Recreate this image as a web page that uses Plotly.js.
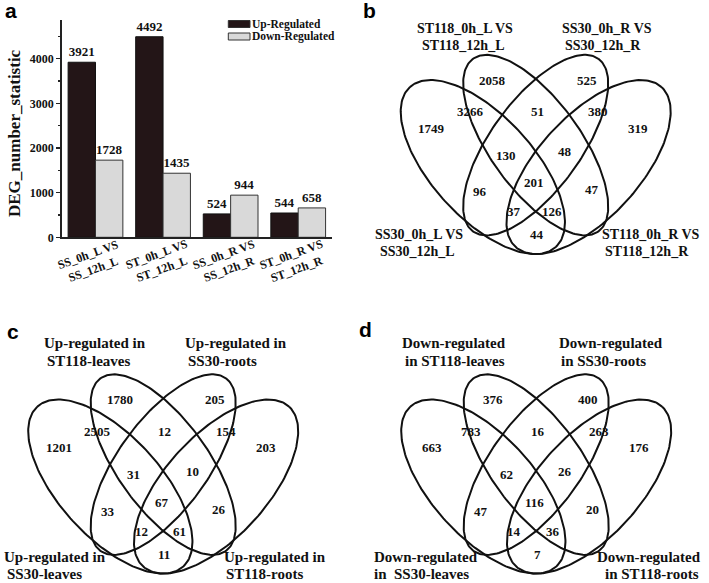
<!DOCTYPE html>
<html>
<head>
<meta charset="utf-8">
<script src="https://cdn.plot.ly/plotly-3.0.1.min.js"></script>
<style>
  html, body { margin: 0; padding: 0; background: #fff; }
  #fig { width: 709px; height: 583px; }
</style>
</head>
<body>
<div id="fig"></div>
<script>
// ---- panel a: number of DEGs per comparison
const comparisons = ['SS_0h_L VS<br>SS_12h_L', 'ST_0h_L VS<br>ST_12h_L', 'SS_0h_R VS<br>SS_12h_R', 'ST_0h_R VS<br>ST_12h_R'];
const upRegulated = [3921, 4492, 524, 544];
const downRegulated = [1728, 1435, 944, 658];
const seriesNames = ['Up-Regulated', 'Down-Regulated'];
const yTickVals = [0, 1000, 2000, 3000, 4000];
const yTitle = 'DEG_number_statistic';

// ---- venn panels, region order:
// A, B, C, D, AB, BC, CD, AC, BD, AD, ABC, BCD, ACD, ABD, ABCD
const countsB = [1749, 2058, 525, 319, 3266, 51, 380, 96, 47, 44, 130, 48, 37, 126, 201];
const countsC = [1201, 1780, 205, 203, 2505, 12, 154, 33, 26, 11, 31, 10, 12, 61, 67];
const countsD = [663, 376, 400, 176, 783, 16, 263, 47, 20, 7, 62, 26, 14, 36, 116];

// set names, order A (bottom left), B (top left), C (top right), D (bottom right)
const setsB = ['SS30_0h_L VS<br>SS30_12h_L', 'ST118_0h_L VS<br>ST118_12h_L', 'SS30_0h_R VS<br>SS30_12h_R', 'ST118_0h_R VS<br>ST118_12h_R'];
const setsC = ['Up-regulated in<br>SS30-leaves', 'Up-regulated in<br>ST118-leaves', 'Up-regulated in<br>SS30-roots', 'Up-regulated in<br>ST118-roots'];
const setsD = ['Down-regulated<br>in\u00a0 SS30-leaves', 'Down-regulated<br>in ST118-leaves', 'Down-regulated<br>in SS30-roots', 'Down-regulated<br>in ST118-roots'];

// ---- layout stuff
const W = 709, H = 583;
const SERIF = 'Liberation Serif';
const SANS = 'Liberation Sans';
const px = x => x / W;
const py = y => 1 - y / H;

// 4-ellipse venn geometry (unit coords, y up)
const ellipses = [
  {cx: 0.33, cy: 0.4645, a: 0.348, b: 0.164, rot: 132.4},
  {cx: 0.50, cy: 0.535, a: 0.343, b: 0.145, rot: 126},
  {cx: 0.50, cy: 0.535, a: 0.343, b: 0.145, rot: 54},
  {cx: 0.67, cy: 0.4645, a: 0.348, b: 0.164, rot: 47.6}
];
const regionPos = [
  [0.166, 0.589], [0.362, 0.744], [0.666, 0.744], [0.830, 0.589],
  [0.289, 0.642], [0.505, 0.642], [0.701, 0.642],
  [0.321, 0.385], [0.680, 0.391], [0.503, 0.246],
  [0.405, 0.503], [0.594, 0.514],
  [0.430, 0.321], [0.553, 0.321], [0.496, 0.414]
];

const vennPanels = [
  {counts: countsB, sets: setsB, ox: 380.2, oy: 311.5, dom: [354.5, 709, 0, 320],
   labelFont: 14, gap: 16.5,
   anchors: [[373.3, 234.5, 5], [415, 28.5, 5], [560, 28.5, 3], [600, 234.5, 3]]},
  {counts: countsC, sets: setsC, ox: 7.7, oy: 631, dom: [0, 354.5, 320, 583],
   labelFont: 15, gap: 17.5,
   anchors: [[1.7, 556.5, 3], [41.7, 343.3, 3], [183.3, 343.3, 3], [221.7, 556.5, 2]]},
  {counts: countsD, sets: setsD, ox: 380.7, oy: 631, dom: [354.5, 709, 320, 583],
   labelFont: 15, gap: 17.5,
   anchors: [[371.7, 556.5, 0], [400, 343.3, 3], [556.7, 343.3, 2], [595, 556.5, 8]]}
];
const S = 311; // px per venn unit

const panelLetters = [['a', 11, 11], ['b', 369, 11], ['c', 12.5, 331], ['d', 365, 329]];

function ellipseOutline(e) {
  const xs = [], ys = [];
  const th = e.rot * Math.PI / 180;
  for (let i = 0; i <= 200; i++) {
    const t = i / 200 * 2 * Math.PI;
    xs.push(e.cx + e.a * Math.cos(t) * Math.cos(th) - e.b * Math.sin(t) * Math.sin(th));
    ys.push(e.cy + e.a * Math.cos(t) * Math.sin(th) + e.b * Math.sin(t) * Math.cos(th));
  }
  return [xs, ys];
}

var data = [];
var annotations = [];
var shapes = [];

// bars
data.push({
  type: 'bar', x: comparisons, y: upRegulated, name: seriesNames[0],
  marker: {color: '#231517', line: {color: '#111', width: 1}},
  text: upRegulated.map(String), textposition: 'outside', cliponaxis: false,
  textfont: {family: SERIF, size: 13, color: '#111', weight: 'bold'},
  xaxis: 'x', yaxis: 'y', showlegend: false
});
data.push({
  type: 'bar', x: comparisons, y: downRegulated, name: seriesNames[1],
  marker: {color: '#d9d9d9', line: {color: '#333', width: 1}},
  text: downRegulated.map(String), textposition: 'outside', cliponaxis: false,
  textfont: {family: SERIF, size: 13, color: '#111', weight: 'bold'},
  xaxis: 'x', yaxis: 'y', showlegend: false
});

// rotated category labels
comparisons.forEach(c => {
  annotations.push({
    x: c, y: 0, xref: 'x', yref: 'y', text: c, showarrow: false,
    xanchor: 'center', yanchor: 'middle',
    textangle: -20, xshift: -4, yshift: -25,
    font: {family: SERIF, size: 12, color: '#111', weight: 'bold'}
  });
});

// hand made legend (plotly rows are too tall)
const legendFill = ['#231517', '#d9d9d9'];
seriesNames.forEach((name, i) => {
  const yc = 24 + i * 12.5;
  shapes.push({type: 'rect', xref: 'paper', yref: 'paper',
    x0: px(228.3), x1: px(250), y0: py(yc - 3.5), y1: py(yc + 3.5),
    fillcolor: legendFill[i], line: {color: '#333', width: 1}});
  annotations.push({xref: 'paper', yref: 'paper', x: px(251), y: py(yc),
    xanchor: 'left', yanchor: 'middle', text: name, showarrow: false, borderpad: 0,
    font: {family: SERIF, size: 11.5, color: '#111', weight: 'bold'}});
});

annotations.push({xref: 'paper', yref: 'paper', x: px(14.5), y: py(133.5),
  xanchor: 'center', yanchor: 'middle',
  text: yTitle, textangle: -90, showarrow: false,
  font: {family: SERIF, size: 17, color: '#111', weight: 'bold'}});

var layout = {
  width: W, height: H,
  margin: {l: 0, r: 0, t: 0, b: 0},
  paper_bgcolor: '#fff', plot_bgcolor: 'rgba(0,0,0,0)',
  showlegend: false,
  barmode: 'group', bargap: 0.19, bargroupgap: 0,
  xaxis: {domain: [px(61.7), px(332)], range: [-0.5, 3.5], showticklabels: false,
    ticks: '', showline: true, linecolor: '#222', linewidth: 1.5, showgrid: false,
    zeroline: false, fixedrange: true},
  yaxis: {domain: [py(237.3), py(20)], range: [0, 4867], tickvals: yTickVals,
    ticks: 'outside', ticklen: 4, tickwidth: 1.5, tickcolor: '#222',
    minor: {dtick: 500, tick0: 0, ticks: 'outside', ticklen: 2, tickcolor: '#222'},
    showline: true, linecolor: '#222', linewidth: 1.5, showgrid: false, zeroline: false,
    tickfont: {family: SERIF, size: 12, color: '#111', weight: 'bold'}}
};

// venn panels
vennPanels.forEach((p, k) => {
  const n = k + 2;
  const xa = 'x' + n, ya = 'y' + n;
  const [x0p, x1p, ytop, ybot] = p.dom;
  layout['xaxis' + n] = {domain: [px(x0p), px(x1p)], anchor: ya,
    range: [(x0p - p.ox) / S, (x1p - p.ox) / S], visible: false, fixedrange: true};
  layout['yaxis' + n] = {domain: [py(ybot), py(ytop)], anchor: xa,
    range: [(p.oy - ybot) / S, (p.oy - ytop) / S], visible: false, fixedrange: true};

  ellipses.forEach(e => {
    const [xs, ys] = ellipseOutline(e);
    data.push({type: 'scatter', mode: 'lines', x: xs, y: ys, xaxis: xa, yaxis: ya,
      line: {color: '#111', width: 2}, hoverinfo: 'skip', showlegend: false});
  });

  p.counts.forEach((c, i) => {
    annotations.push({xref: xa, yref: ya, x: regionPos[i][0], y: regionPos[i][1],
      xanchor: 'center', yanchor: 'middle',
      text: String(c), showarrow: false,
      font: {family: SERIF, size: 13, color: '#111', weight: 'bold'}});
  });

  p.sets.forEach((s, i) => {
    const [lx, ly, indent] = p.anchors[i];
    s.split('<br>').forEach((line, j) => {
      annotations.push({xref: 'paper', yref: 'paper',
        x: px(lx + (j ? indent : 0)), y: py(ly + j * p.gap),
        xanchor: 'left', yanchor: 'middle', text: line, showarrow: false,
        font: {family: SERIF, size: p.labelFont, color: '#111', weight: 'bold'}});
    });
  });
});

panelLetters.forEach(([t, x, y]) => {
  annotations.push({xref: 'paper', yref: 'paper', x: px(x), y: py(y), text: t,
    xanchor: 'center', yanchor: 'middle',
    showarrow: false, font: {family: SANS, size: 21, color: '#000', weight: 'bold'}});
});

layout.annotations = annotations;
layout.shapes = shapes;

Plotly.newPlot('fig', data, layout, {displayModeBar: false, staticPlot: true});
</script>
</body>
</html>
